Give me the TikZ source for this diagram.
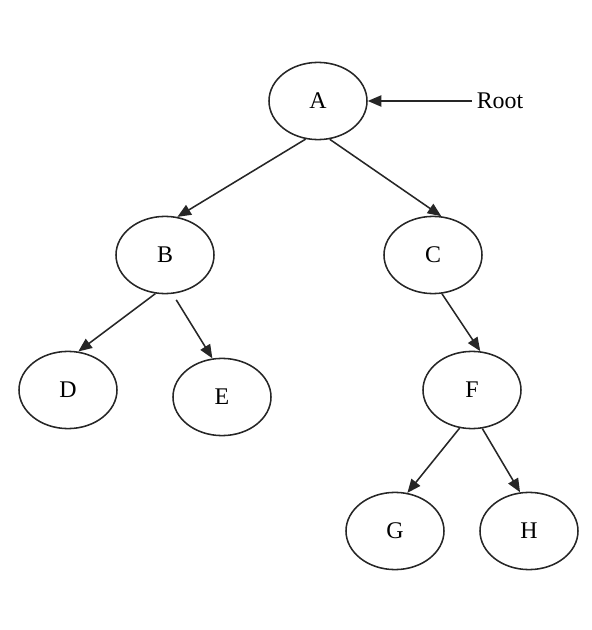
\documentclass[tikz,border=0pt]{standalone}
\usepackage{fontspec}
\setmainfont{Liberation Serif}
\usetikzlibrary{arrows.meta,positioning,shapes.geometric}

\begin{document}
\begin{tikzpicture}[
  >={Triangle[length=3.4mm, width=2.8mm]},
  vertex/.style={draw, ellipse, line width=1.1pt, black!85,
                 minimum width=24.5mm, minimum height=19.3mm,
                 inner sep=0pt, font=\fontsize{17}{19}\selectfont, text=black},
  arrow/.style={->, line width=1.1pt, black!85},
  annot/.style={font=\fontsize{17}{20}\selectfont},
]
\useasboundingbox (0,0) rectangle (14.8,15.75);

% === Nodes of the tree ===
\node[vertex] (A) at (7.95, 13.225) {A};
\node[vertex] (B) at (4.125, 9.375) {B};
\node[vertex] (C) at (10.825, 9.375) {C};
\node[vertex] (D) at (1.7, 6.0) {D};
\node[vertex] (E) at (5.55, 5.825) {E};
\node[vertex] (F) at (11.8, 6.0) {F};
\node[vertex] (G) at (9.875, 2.475) {G};
\node[vertex] (H) at (13.225, 2.475) {H};

\node[annot] (root) at (12.5, 13.225) {Root};

% === Edges ===
\draw[arrow] (A.252) -- (B.72);
\draw[arrow] (A.287) -- (C.78);
\draw[arrow] (B.256) -- (D.75);
\draw[arrow, shorten <=5pt] (B.281) -- (E.104);
\draw[arrow] (C.283) -- (F.78);
\draw[arrow] (F.252) -- (G.72);
\draw[arrow] (F.285) -- (H.103);

% === Root pointer ===
\draw[arrow] (root.west) -- (A.east);

\end{tikzpicture}
\end{document}
